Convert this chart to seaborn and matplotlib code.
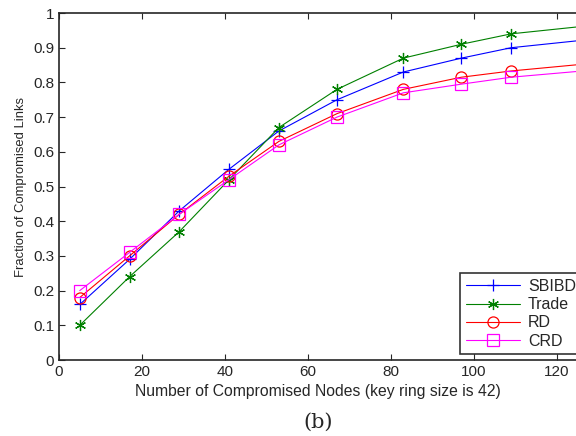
import matplotlib
matplotlib.use("Agg")
import matplotlib.pyplot as plt
import seaborn as sns
import pandas as pd

nodes = [5, 17, 29, 41, 53, 67, 83, 97, 109, 133]
sbibd = [0.16, 0.29, 0.43, 0.55, 0.66, 0.75, 0.83, 0.87, 0.90, 0.93]
trade = [0.10, 0.24, 0.37, 0.52, 0.67, 0.78, 0.87, 0.91, 0.94, 0.97]
rd = [0.18, 0.30, 0.42, 0.53, 0.63, 0.71, 0.78, 0.815, 0.833, 0.86]
crd = [0.20, 0.31, 0.42, 0.52, 0.62, 0.70, 0.77, 0.795, 0.815, 0.84]
series_names = ["SBIBD", "Trade", "RD", "CRD"]
xticks = [0, 20, 40, 60, 80, 100, 120]
yticks = [0, 0.1, 0.2, 0.3, 0.4, 0.5, 0.6, 0.7, 0.8, 0.9, 1.0]

sns.set_style("ticks")
plt.rcParams['font.family'] = ['Liberation Sans', 'DejaVu Sans']

fig = plt.figure(figsize=(5.76, 4.36), dpi=100)
ax = fig.add_axes([59/576, 1 - 360/436, 1 - 59/576, 347/436])

colors = ["#0000ff", "#008000", "#ff0000", "#ff00ff"]
markers = ["+", (6, 2, 0), "o", "s"]
msizes = [9, 8, 8, 8]
for name, vals, c, m, ms in zip(series_names, [sbibd, trade, rd, crd], colors, markers, msizes):
    df = pd.DataFrame({"x": nodes, "y": vals})
    sns.lineplot(data=df, x="x", y="y", ax=ax, color=c, marker=m, markersize=ms,
                 markerfacecolor="none", markeredgecolor=c, markeredgewidth=0.9,
                 linewidth=0.8, label=name, clip_on=True)

ax.set_xlim(0, 124.6)
ax.set_ylim(0, 1)
ax.set_xticks(xticks)
ax.set_yticks(yticks)
ax.set_yticklabels(["0", "0.1", "0.2", "0.3", "0.4", "0.5", "0.6", "0.7", "0.8", "0.9", "1"])
ax.tick_params(direction="in", top=True, right=False, labelsize=11, length=4, width=0.8)
ax.spines["right"].set_visible(False)
for s in ["left", "bottom", "top"]:
    ax.spines[s].set_linewidth(1.2)
ax.set_xlabel("Number of Compromised Nodes (key ring size is 42)", fontsize=11.3, labelpad=4)
ax.set_ylabel("Fraction of Compromised Links", fontsize=9.4, labelpad=4)

leg = ax.legend(loc="lower left", bbox_to_anchor=(0.776, 0.017), borderaxespad=0,
                fontsize=11.5, frameon=True, fancybox=False, edgecolor="black",
                handlelength=3.4, labelspacing=0.2, borderpad=0.35, handletextpad=0.5)
leg.get_frame().set_linewidth(1.2)
leg.set_clip_on(False)

fig.text(318/576, 1 - 422/436, "(b)", family="DejaVu Serif", fontsize=15, ha="center", va="center")

fig.savefig("out.png", dpi=100)
